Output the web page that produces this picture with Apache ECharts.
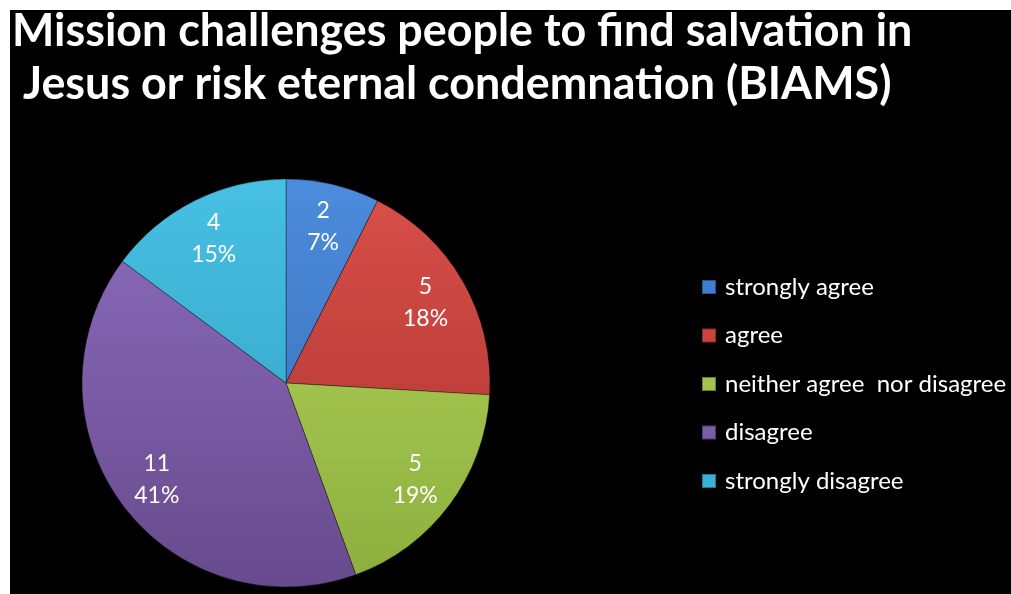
<!DOCTYPE html>
<html>
<head>
<meta charset="utf-8">
<script src="https://cdn.jsdelivr.net/npm/echarts@6/dist/echarts.min.js"></script>
<style>
html,body{margin:0;padding:0;background:#fff;}
#chart{width:1011px;height:594px;}
</style>
</head>
<body>
<div id="chart"></div>
<script>
const titleLines = ['Mission challenges people to find salvation in', ' Jesus or risk eternal condemnation (BIAMS)'];
const categories = ['strongly agree', 'agree', 'neither agree  nor disagree', 'disagree', 'strongly disagree'];
const counts = [2, 5, 5, 11, 4];
const percents = [7, 18, 19, 41, 15];
const topColors = ['#4C8CDC', '#D9504A', '#B7D85C', '#8D6DBD', '#47C0E3'];
const bottomColors = ['#3569B2', '#A8302D', '#8BAE3E', '#684A8E', '#2F9DBF'];
const legendColors = ['#3F7ED0', '#CC4440', '#A0C44E', '#7B5CA6', '#3AB0D4'];

const CX = 286, CY = 383, R = 204;

function grad(i) {
  return {
    type: 'linear', x: 0, y: CY - R, x2: 0, y2: CY + R, global: true,
    colorStops: [{offset: 0, color: topColors[i]}, {offset: 1, color: bottomColors[i]}]
  };
}

const pieData = categories.map((c, i) => ({name: c, value: counts[i], itemStyle: {color: grad(i)}}));
const labelData = categories.map((c, i) => ({name: c, value: counts[i]}));

const chart = echarts.init(document.getElementById('chart'), null, {renderer: 'canvas'});
chart.setOption({
  backgroundColor: '#ffffff',
  animation: false,
  graphic: [
    {type: 'rect', shape: {x: 10, y: 10, width: 1001, height: 584}, style: {fill: '#000'}, z: -10, silent: true},
    {type: 'text', x: 12, y: 8, scaleX: 0.975, style: {text: titleLines[0], fill: '#fff', font: 'bold 46px Lato', textVerticalAlign: 'top'}},
    {type: 'text', x: 12, y: 61, scaleX: 0.975, style: {text: titleLines[1], fill: '#fff', font: 'bold 46px Lato', textVerticalAlign: 'top'}}
  ],
  legend: {
    orient: 'vertical',
    left: 701,
    top: 275,
    padding: 0,
    icon: 'rect',
    itemWidth: 14,
    itemHeight: 14,
    itemGap: 24.5,
    textStyle: {color: '#fff', fontFamily: 'Lato', fontSize: 24, lineHeight: 24, padding: [0, 0, 0, 4]},
    data: categories.map((c, i) => ({name: c, itemStyle: {color: legendColors[i]}}))
  },
  series: [
    {
      type: 'pie',
      center: [CX, CY],
      radius: [0, R],
      startAngle: 90,
      clockwise: true,
      data: pieData,
      label: {show: false},
      labelLine: {show: false},
      itemStyle: {borderColor: 'rgba(0,0,0,0.35)', borderWidth: 1},
      emphasis: {disabled: true}
    },
    {
      type: 'pie',
      center: [CX, CY],
      radius: [R * 0.55, R],
      startAngle: 90,
      clockwise: true,
      silent: true,
      data: labelData,
      itemStyle: {color: 'rgba(0,0,0,0)'},
      label: {
        show: true, position: 'inside', color: '#fff', fontFamily: 'Lato', fontSize: 23, lineHeight: 32,
        formatter: p => counts[p.dataIndex] + '\n' + percents[p.dataIndex] + '%'
      },
      labelLine: {show: false},
      emphasis: {disabled: true}
    }
  ]
});
</script>
</body>
</html>
